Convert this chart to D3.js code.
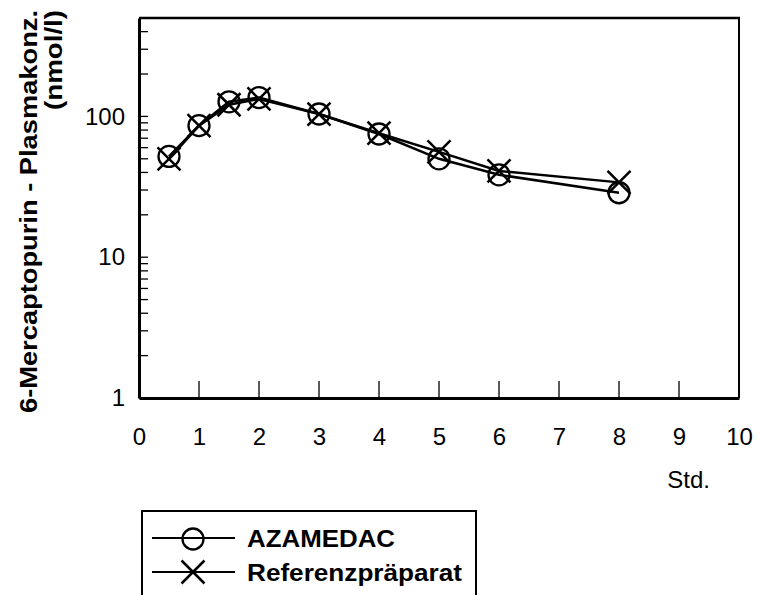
<!DOCTYPE html>
<html><head><meta charset="utf-8">
<script src="https://cdn.jsdelivr.net/npm/d3@7"></script>
<style>body{margin:0;background:#fff}svg{display:block}text{font-family:"Liberation Sans",Arial,sans-serif;fill:#000}</style>
</head><body><svg id="c" width="759" height="595"></svg>
<script>
const hours = [0.5, 1, 1.5, 2, 3, 4, 5, 6, 8];
const azamedac = [52, 86, 127, 136, 104, 75, 50, 38.5, 28.7];
const referenz = [50, 86, 121, 133, 104, 76, 56, 41, 34];
const xTicks = [0,1,2,3,4,5,6,7,8,9,10];
const yMajor = [1, 10, 100];
const yMinor = [2,3,4,5,6,7,8,9,20,30,40,50,60,70,80,90,200,300,400];
const seriesNames = ["AZAMEDAC", "Referenzpräparat"];

const svg = d3.select("#c");
const L = 139, R = 739, T = 18, B = 398;
const x = d3.scaleLinear().domain([0,10]).range([L,R]);
const y = d3.scaleLog().domain([1,500]).range([B,T]);
const FF = "'Liberation Sans',Arial,sans-serif";

// frame
svg.append("line").attr("x1",L).attr("x2",R+1).attr("y1",T).attr("y2",T).attr("stroke","#000").attr("stroke-width",2.5);
svg.append("line").attr("x1",R).attr("x2",R).attr("y1",T).attr("y2",B).attr("stroke","#000").attr("stroke-width",2);

// y axis
const yAxis = d3.axisLeft(y).tickValues(yMajor).tickFormat(d3.format("d")).tickSize(0).tickPadding(14);
const gy = svg.append("g").attr("transform",`translate(${L},0)`).call(yAxis);
gy.select(".domain").attr("stroke-width",3);
gy.selectAll("text").attr("font-size",24).style("font-family",FF);
svg.append("g").selectAll("line").data(yMajor.concat(yMinor)).join("line")
  .attr("x1",L).attr("x2",L+9).attr("y1",d=>y(d)).attr("y2",d=>y(d)).attr("stroke","#000").attr("stroke-width",1.3);

// x axis
const xAxis = d3.axisBottom(x).tickValues(xTicks).tickFormat(d3.format("d")).tickSize(0).tickPadding(30);
const gx = svg.append("g").attr("transform",`translate(0,${B})`).call(xAxis);
gx.select(".domain").attr("stroke-width",3);
gx.selectAll("text").attr("font-size",24).style("font-family",FF);
svg.append("g").selectAll("line").data(xTicks.slice(1,-1)).join("line")
  .attr("x1",d=>x(d)).attr("x2",d=>x(d)).attr("y1",B).attr("y2",B-17).attr("stroke","#000").attr("stroke-width",1.3);

// axis labels
svg.append("text").attr("x",710).attr("y",488).attr("text-anchor","end").attr("font-size",24).text("Std.");
const yl = svg.append("g").attr("transform","translate(37,10) rotate(-90)");
yl.append("text").attr("text-anchor","end").attr("font-weight","bold").attr("font-size",23)
  .attr("textLength",403).attr("lengthAdjust","spacingAndGlyphs").attr("x",0).attr("y",0).text("6-Mercaptopurin - Plasmakonz.");
yl.append("text").attr("text-anchor","end").attr("font-weight","bold").attr("font-size",23)
  .attr("textLength",100).attr("lengthAdjust","spacingAndGlyphs").attr("x",0).attr("y",25).text("(nmol/l)");

// series
const line = d3.line().x(d=>x(d[0])).y(d=>y(d[1]));
const dA = hours.map((h,i)=>[h,azamedac[i]]);
const dR = hours.map((h,i)=>[h,referenz[i]]);
svg.append("path").attr("d",line(dA)).attr("fill","none").attr("stroke","#000").attr("stroke-width",2.5);
svg.append("path").attr("d",line(dR)).attr("fill","none").attr("stroke","#000").attr("stroke-width",2.5);
const circ = (g,cx,cy)=>g.append("circle").attr("cx",cx).attr("cy",cy).attr("r",10.5).attr("fill","none").attr("stroke","#000").attr("stroke-width",2.3);
const cross = (g,cx,cy)=>{const s=11.5;g.append("path").attr("d",`M${cx-s},${cy-s}L${cx+s},${cy+s}M${cx-s},${cy+s}L${cx+s},${cy-s}`).attr("stroke","#000").attr("stroke-width",2.5).attr("fill","none");};
const gm = svg.append("g");
dA.forEach(d=>circ(gm,x(d[0]),y(d[1])));
dR.forEach(d=>cross(gm,x(d[0]),y(d[1])));

// legend
const lg = svg.append("g");
lg.append("path").attr("d","M142,600V511H476V600").attr("fill","none").attr("stroke","#000").attr("stroke-width",2);
const rows = [{ly:538, ty:547, len:148}, {ly:572, ty:581, len:215}];
rows.forEach((r,i)=>{
  lg.append("line").attr("x1",152).attr("x2",235).attr("y1",r.ly).attr("y2",r.ly).attr("stroke","#000").attr("stroke-width",2);
  if(i===0) circ(lg,193,r.ly+1); else cross(lg,193,r.ly);
  lg.append("text").attr("x",247).attr("y",r.ty).attr("font-weight","bold").attr("font-size",23)
    .attr("textLength",r.len).attr("lengthAdjust","spacingAndGlyphs").text(seriesNames[i]);
});
</script></body></html>
